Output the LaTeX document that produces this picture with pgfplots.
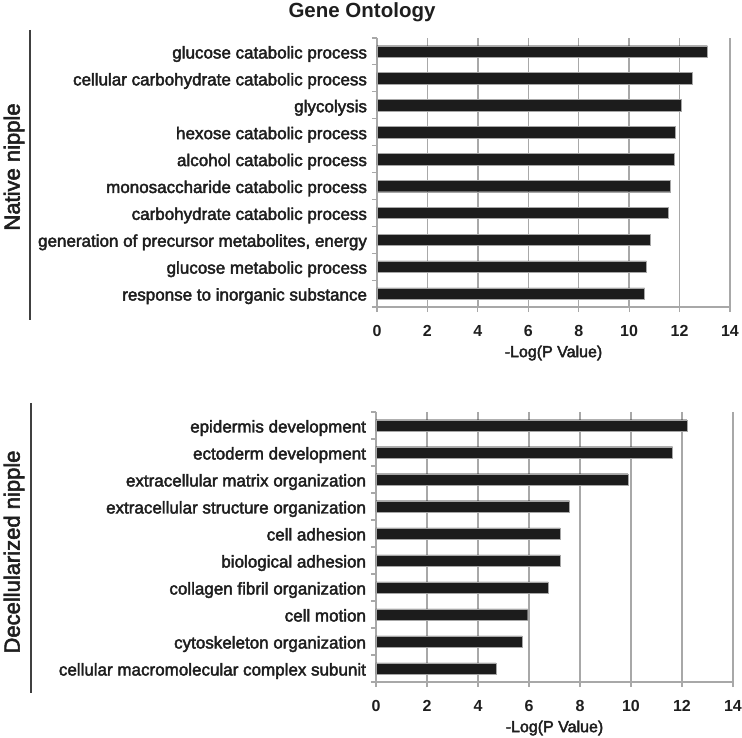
\documentclass[border=0pt]{standalone}
\usepackage{pgfplots}
\pgfplotsset{compat=1.18}
\usepackage{fontspec}
\setmainfont{Liberation Sans}
\newfontfamily\semib[FakeBold=2.5]{Liberation Sans}
\definecolor{txt}{HTML}{1E1E1E}
\definecolor{gridc}{HTML}{A8A8A8}
\definecolor{barc}{HTML}{1C1C1C}
\pgfplotsset{
  goaxis/.style={
    scale only axis,
    anchor=south west,
    xmin=0, xmax=14,
    xtick={0,2,...,14},
    ymin=-0.5, ymax=9.5,
    y dir=reverse,
    ytick={0,...,9},
    minor ytick={-0.5,0.5,...,9.5},
    axis x line*=bottom,
    axis y line*=left,
    axis line style={gridc, line width=1.3pt},
    xmajorgrids,
    grid style={gridc, line width=1.3pt},
    tick align=outside,
    major tick length=5pt,
    minor tick length=5pt,
    every major y tick/.style={draw=none},
    tick style={gridc, line width=1.1pt},
    /pgf/number format/assume math mode=true,
    xticklabel style={font=\bfseries\fontsize{16}{16}\selectfont, text=txt, yshift=-10pt},
    yticklabel style={font=\semib\fontsize{17}{17}\selectfont, text=txt, anchor=base east, yshift=-7pt, xshift=-1.5pt},
    xlabel style={font=\semib\fontsize{16}{16}\selectfont, text=txt, at={(axis description cs:0.5,0)}, anchor=center, yshift=-46pt},
    xlabel={-Log(P Value)},
    xbar,
    bar width=11.5pt,
  },
}
\begin{document}
\begin{tikzpicture}
\useasboundingbox (0pt,0pt) rectangle (742pt,737pt);
\node[font=\bfseries\fontsize{20.5}{20.5}\selectfont, text=txt] at (362pt,725pt) {Gene Ontology};
\node[rotate=90, font=\semib\fontsize{22}{22}\selectfont, text=txt] at (14pt,570pt) {Native nipple};
\node[rotate=90, font=\semib\fontsize{22}{22}\selectfont, text=txt] at (14pt,185pt) {Decellularized nipple};
\draw[txt!85, line width=2pt] (30pt,707pt) -- (30pt,417pt);
\draw[txt!85, line width=2pt] (31pt,334pt) -- (31pt,44pt);

\begin{axis}[goaxis,
  at={(377pt,430pt)}, width=353pt, height=269pt,
  yticklabels={glucose catabolic process, cellular carbohydrate catabolic process, glycolysis, hexose catabolic process, alcohol catabolic process, monosaccharide catabolic process, carbohydrate catabolic process, {generation of precursor metabolites, energy}, glucose metabolic process, response to inorganic substance},
]
\addplot[fill=barc, draw=gray!70] coordinates {
(13.10,0) (12.51,1) (12.07,2) (11.82,3) (11.77,4) (11.63,5) (11.55,6) (10.85,7) (10.68,8) (10.61,9)};
\end{axis}

\begin{axis}[goaxis,
  at={(376pt,55pt)}, width=357pt, height=270pt,
  yticklabels={epidermis development, ectoderm development, extracellular matrix organization, extracellular structure organization, cell adhesion, biological adhesion, collagen fibril organization, cell motion, cytoskeleton organization, cellular macromolecular complex subunit},
]
\addplot[fill=barc, draw=gray!70] coordinates {
(12.19,0) (11.63,1) (9.88,2) (7.59,3) (7.22,4) (7.22,5) (6.75,6) (5.95,7) (5.73,8) (4.70,9)};
\end{axis}
\end{tikzpicture}
\end{document}
